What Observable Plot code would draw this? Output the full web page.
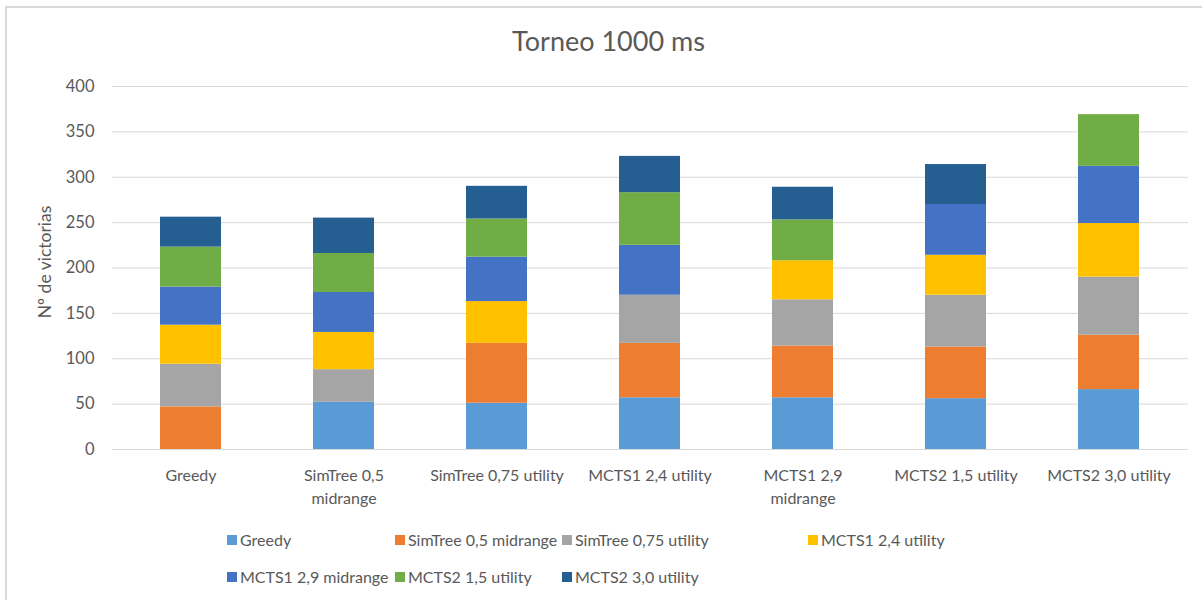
<!DOCTYPE html>
<html>
<head>
<meta charset="utf-8">
<script src="https://cdn.jsdelivr.net/npm/d3@7"></script>
<script src="https://cdn.jsdelivr.net/npm/@observablehq/plot@0.6"></script>
<style>
  html, body { margin: 0; padding: 0; background: #fff; }
  #chart { position: relative; width: 1202px; height: 600px; overflow: hidden; font-family: Lato, "Open Sans", sans-serif; color: #595959; }
  #frame { position: absolute; left: 5px; top: 6px; right: -4px; bottom: -4px; border-top: 2px solid #d9d9d9; border-left: 2px solid #d9d9d9; }
  #title { position: absolute; left: 0; width: 1217px; top: 24px; text-align: center; font-size: 27px; line-height: 34px; }
  #ylabel { position: absolute; left: 45px; top: 262px; font-size: 17.5px; line-height: 20px; white-space: nowrap; transform: translate(-50%, -50%) rotate(-90deg); }
  #plot { position: absolute; left: 0; top: 0; }
  .leg { position: absolute; font-size: 16px; line-height: 20px; white-space: nowrap; }
  .leg .sw { position: absolute; left: 0; top: 5px; width: 10px; height: 10px; }
  .leg .tx { position: absolute; left: 13px; top: 0; }
</style>
</head>
<body>
<div id="chart">
  <div id="frame"></div>
  <div id="plot"></div>
  <div id="title">Torneo 1000 ms</div>
  <div id="ylabel">Nº de victorias</div>
</div>
<script>
// Players in the tournament (one bar per player, one stacked segment per opponent)
const players = [
  "Greedy",
  "SimTree 0,5 midrange",
  "SimTree 0,75 utility",
  "MCTS1 2,4 utility",
  "MCTS1 2,9 midrange",
  "MCTS2 1,5 utility",
  "MCTS2 3,0 utility"
];

// Axis labels for each bar (with line breaks)
const tickLabels = [
  "Greedy",
  "SimTree 0,5\nmidrange",
  "SimTree 0,75 utility",
  "MCTS1 2,4 utility",
  "MCTS1 2,9\nmidrange",
  "MCTS2 1,5 utility",
  "MCTS2 3,0 utility"
];

// Wins per series, one value per bar (in the order of `players`)
const greedy      = [0, 52, 51, 57, 57, 56, 66];
const simTree05   = [47, 0, 66, 60, 57, 57, 60];
const simTree075  = [47, 36, 0, 53, 51, 57, 64];
const mcts1_24    = [43, 41, 46, 0, 43, 44, 59];
const mcts1_29    = [42, 44, 49, 55, 0, 56, 63];
const mcts2_15    = [44, 43, 42, 58, 45, 0, 57];
const mcts2_30    = [33, 39, 36, 40, 36, 44, 0];

const seriesValues = [greedy, simTree05, simTree075, mcts1_24, mcts1_29, mcts2_15, mcts2_30];
const seriesColors = ["#5B9BD5", "#ED7D31", "#A5A5A5", "#FFC000", "#4472C4", "#70AD47", "#255E91"];

const yTicks = [0, 50, 100, 150, 200, 250, 300, 350, 400];

// Long-format table for the stacked bars
const rows = [];
seriesValues.forEach((vals, s) => {
  vals.forEach((v, i) => rows.push({player: players[i], series: players[s], wins: v}));
});

const labelOf = new Map(players.map((p, i) => [p, tickLabels[i]]));

const plot = Plot.plot({
  width: 1202,
  height: 520,
  marginLeft: 112,
  marginRight: 14,
  marginTop: 86,
  marginBottom: 71,
  style: {fontFamily: "Lato, 'Open Sans', sans-serif", fontSize: "16px", color: "#595959", background: "transparent"},
  x: {domain: players, paddingInner: 0.6, paddingOuter: 0.3, label: null},
  y: {domain: [0, 400], label: null},
  color: {domain: players, range: seriesColors},
  marks: [
    Plot.gridY(yTicks, {stroke: "#d9d9d9", strokeOpacity: 1, strokeWidth: 1}),
    Plot.barY(rows, Plot.stackY({x: "player", y: "wins", fill: "series", order: players})),
    Plot.ruleY([0], {stroke: "#d9d9d9", strokeWidth: 1}),
    Plot.axisY(yTicks, {tickSize: 0, tickPadding: 18, label: null, fontSize: 16.5}),
    Plot.axisX({tickSize: 0, tickPadding: 16, tickFormat: d => labelOf.get(d), lineHeight: 1.4, label: null, fontSize: 16})
  ]
});
document.getElementById("plot").appendChild(plot);

// Legend below the plot, laid out in two rows
const legendPos = [
  [227, 530], [395, 530], [562, 530], [808, 530],
  [227, 567], [395, 567], [562, 567]
];
const chart = document.getElementById("chart");
players.forEach((name, i) => {
  const item = document.createElement("div");
  item.className = "leg";
  item.style.left = legendPos[i][0] + "px";
  item.style.top = legendPos[i][1] + "px";
  const sw = document.createElement("span");
  sw.className = "sw";
  sw.style.background = seriesColors[i];
  const tx = document.createElement("span");
  tx.className = "tx";
  tx.textContent = name;
  item.appendChild(sw);
  item.appendChild(tx);
  chart.appendChild(item);
});
</script>
</body>
</html>
